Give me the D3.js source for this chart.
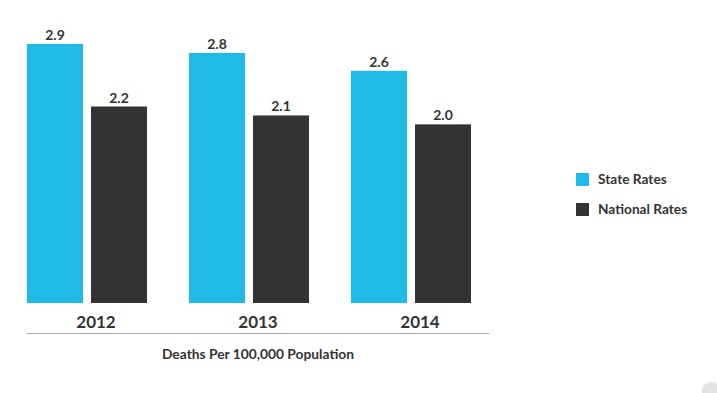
<!DOCTYPE html>
<html>
<head>
<meta charset="utf-8">
<script src="https://cdn.jsdelivr.net/npm/d3@7"></script>
<style>
  body { margin: 0; background: #fff; }
  text { font-family: Lato, "Open Sans", sans-serif; fill: #333; }
</style>
</head>
<body>
<div id="chart"></div>
<script>
const years = ['2012', '2013', '2014'];
const seriesNames = ['State Rates', 'National Rates'];
const stateRates = [2.9, 2.8, 2.6];
const nationalRates = [2.2, 2.1, 2.0];
const colors = ['#1fbbe6', '#333333'];

const rows = years.map((yr, i) => ({ year: yr, values: [stateRates[i], nationalRates[i]] }));

const svg = d3.select('#chart').append('svg').attr('width', 717).attr('height', 393);

const x = d3.scaleBand().domain(years).range([27, 471]).paddingInner(0.2593).paddingOuter(0);
const xs = d3.scaleBand().domain(seriesNames).range([0, x.bandwidth()]).paddingInner(0.125);
const y = d3.scaleLinear().domain([0, 2.9]).range([303, 44]);

const groups = svg.selectAll('.grp')
	.data(rows)
	.enter()
	.append('g')
	.attr('transform', (d) => `translate(${x(d.year)},0)`);

const bars = groups.selectAll('g')
	.data((d) => d.values.map((v, i) => ({ name: seriesNames[i], value: v, i })))
	.enter()
	.append('g');

bars.append('rect')
	.attr('x', (d) => xs(d.name))
	.attr('y', (d) => y(d.value))
	.attr('width', xs.bandwidth())
	.attr('height', (d) => y(0) - y(d.value))
	.attr('fill', (d) => colors[d.i]);

bars.append('text')
	.attr('x', (d) => xs(d.name) + xs.bandwidth() / 2)
	.attr('y', (d) => y(d.value) - 4)
	.attr('text-anchor', 'middle')
	.style('font-size', '14px')
	.style('font-weight', 'bold')
	.text((d) => d.value.toFixed(1));

// year labels
svg.selectAll('.yr')
	.data(years)
	.enter()
	.append('text')
	.attr('x', (d) => x(d) + x.bandwidth() / 2 + 9)
	.attr('y', 328)
	.attr('text-anchor', 'middle')
	.style('font-size', '17px')
	.style('font-weight', 'bold')
	.text((d) => d);

// baseline under labels
svg.append('line')
	.attr('x1', 27).attr('x2', 489)
	.attr('y1', 333.5).attr('y2', 333.5)
	.attr('stroke', '#aaa')
	.attr('stroke-width', 1);

svg.append('text')
	.attr('x', 258)
	.attr('y', 359)
	.attr('text-anchor', 'middle')
	.style('font-size', '13.8px')
	.style('font-weight', 'bold')
	.text('Deaths Per 100,000 Population');

// legend
const legend = svg.selectAll('.lg')
	.data(seriesNames)
	.enter()
	.append('g')
	.attr('transform', (d, i) => `translate(576,${173 + i * 30})`);

legend.append('rect')
	.attr('width', 13).attr('height', 13)
	.attr('fill', (d, i) => colors[i]);

legend.append('text')
	.attr('x', 22)
	.attr('y', 11)
	.style('font-size', '13.7px')
	.style('font-weight', 'bold')
	.text((d) => d);

// faint corner mark
svg.append('circle')
	.attr('cx', 711).attr('cy', 391)
	.attr('r', 9)
	.attr('fill', '#e2e2e2');
</script>
</body>
</html>
